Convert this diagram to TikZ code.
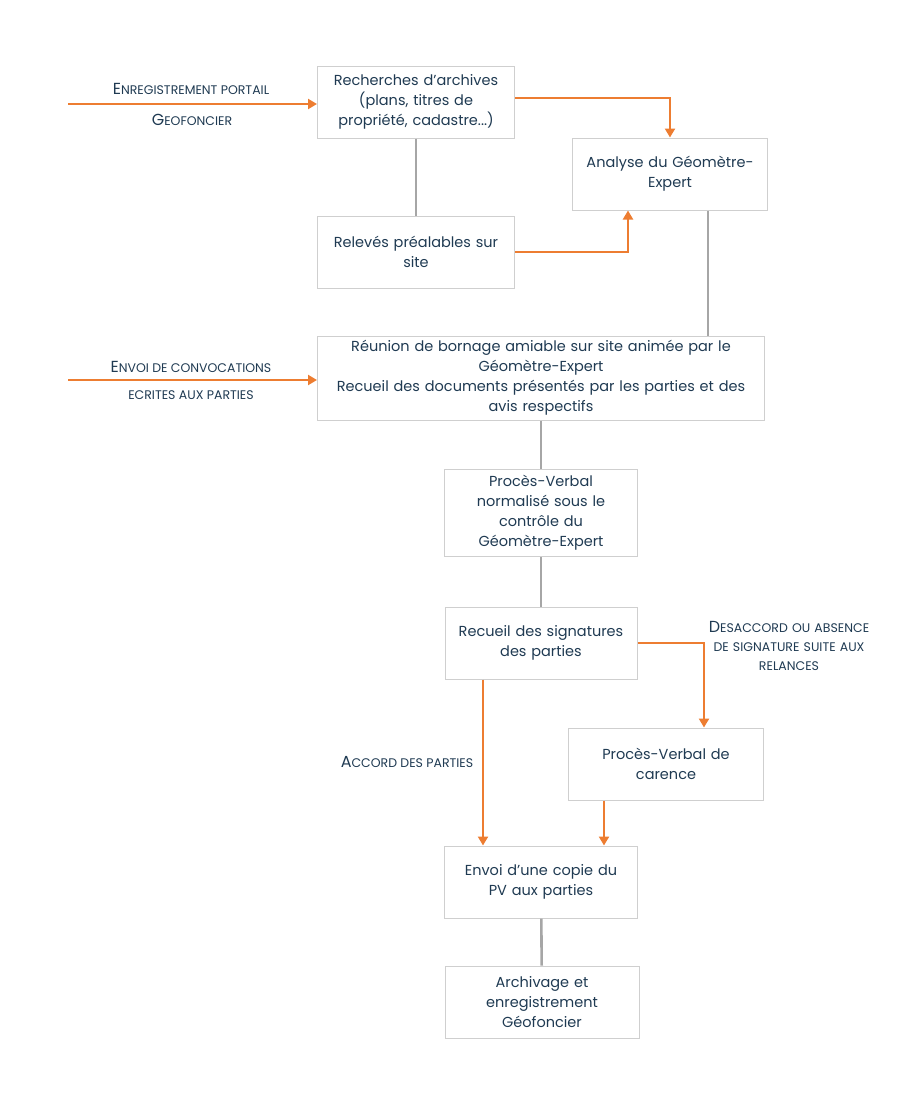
\documentclass[tikz,border=0pt]{standalone}
\usepackage{fontspec}
\setmainfont{Poppins}
\usetikzlibrary{arrows.meta}
\definecolor{txtblue}{HTML}{1F3A52}
\definecolor{orng}{HTML}{ED7D31}
\definecolor{lgray}{HTML}{A6A6A6}
\definecolor{bgray}{HTML}{CFCFCF}
\newcommand{\lab}[2]{{\fontsize{16}{20}\selectfont #1}{\fontsize{12.5}{20}\selectfont #2}}

\begin{document}
\begin{tikzpicture}[x=1pt, y=-1pt,
    every node/.style={text=txtblue, font=\fontsize{14.5}{20}\selectfont},
    box/.style={draw=bgray, line width=1pt, align=center, inner xsep=5pt, minimum height=72pt},
    oarrow/.style={draw=orng, line width=2.6pt, -{Triangle[length=9pt,width=10pt]}},
    gline/.style={draw=lgray, line width=2.6pt},
    tag/.style={align=center, inner sep=0pt}]
  \useasboundingbox (0,0) rectangle (920,1095);

  \node [box, text width=187pt] (rech) at (416,102) {Recherches d'archives\\(plans, titres de\\propriété, cadastre...)};
  \node [box, text width=185pt] (ana) at (670,174) {Analyse du Géomètre-\\Expert};
  \node [box, text width=187pt] (rel) at (416,252) {Relevés préalables sur\\site};
  \node [box, text width=437pt, minimum height=84pt] (reun) at (541,378) {Réunion de bornage amiable sur site animée par le\\Géomètre-Expert\\Recueil des documents présentés par les parties et des\\avis respectifs};
  \node [box, text width=183pt, minimum height=87pt] (pvn) at (541,513) {Procès-Verbal\\normalisé sous le\\contrôle du\\Géomètre-Expert};
  \node [box, text width=182pt] (sign) at (541,643) {Recueil des signatures\\des parties};
  \node [box, text width=185pt] (car) at (666,764) {Procès-Verbal de\\carence};
  \node [box, text width=183pt] (envoi) at (541,882) {Envoi d'une copie du\\PV aux parties};
  \node [box, text width=184pt] (arch) at (542,1002) {Archivage et\\enregistrement\\Géofoncier};

  \coordinate (in1) at (68,104);
  \coordinate (in2) at (68,380);
  \node [tag] (t1a) at (191,89) {\lab{E}{NREGISTREMENT PORTAIL}};
  \node [tag] (t1b) at (192,120) {\lab{G}{EOFONCIER}};
  \node [tag] (t2a) at (191,367) {\lab{E}{NVOI DE CONVOCATIONS}};
  \node [tag] (t2b) at (191,395) {\lab{}{ECRITES AUX PARTIES}};
  \node [tag, text width=200pt, font=\fontsize{12.5}{19}\selectfont] (t3) at (789,646) {\lab{D}{ESACCORD OU ABSENCE}\\\lab{}{DE SIGNATURE SUITE AUX}\\\lab{}{RELANCES}};
  \node [tag] (t4) at (407,762) {\lab{A}{CCORD DES PARTIES}};

  \draw [oarrow] (in1) -- (rech.west |- in1);
  \draw [oarrow] (in2) -- (reun.west |- in2);
  \draw [oarrow] ([yshift=4pt]rech.east) -| (ana.north);
  \draw [oarrow] (rel.east) -| ([xshift=-42pt]ana.south);
  \draw [gline] (rech) -- (rel);
  \draw [gline] ([xshift=38pt]ana.south) coordinate (a1) -- (a1 |- reun.north);
  \draw [gline] (reun) -- (pvn);
  \draw [gline] (pvn) -- (sign);
  \draw [oarrow] (sign.east) -| ([xshift=38pt]car.north);
  \draw [oarrow] ([xshift=-58pt]sign.south) -- ([xshift=-58pt]envoi.north);
  \draw [oarrow] ([xshift=-62pt]car.south) coordinate (c1) -- (c1 |- envoi.north);
  \draw [gline] (envoi) -- (arch);
\end{tikzpicture}
\end{document}
